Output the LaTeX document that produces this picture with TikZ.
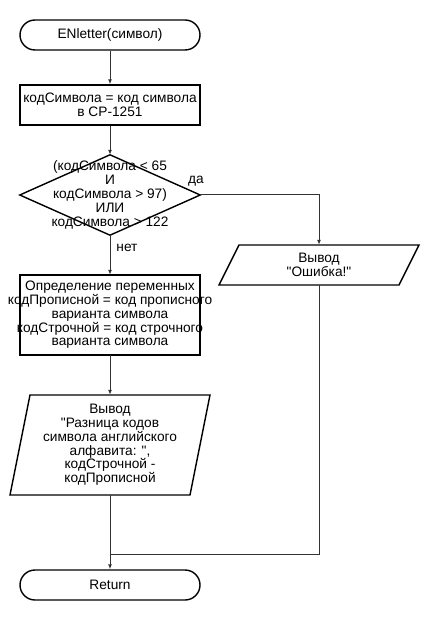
\documentclass[tikz,border=0pt]{standalone}
\usepackage{fontspec}
\newfontfamily\arialf{Liberation Sans}
\usetikzlibrary{arrows.meta,calc}
\begin{document}
\begin{tikzpicture}[x=1pt,y=-1pt,
  txt/.style={font=\arialf\fontsize{13.7}{13.8}\selectfont, align=center, inner sep=0pt},
  shp/.style={draw=black, line width=1.4pt},
  term/.style={txt, shp, minimum width=180pt, minimum height=30pt, rounded corners=15pt},
  procbox/.style={txt, shp, minimum width=180pt},
  conn/.style={draw=black!80, line width=1pt},
  arr/.style={conn, -{Latex[length=5pt,width=4pt]}},
  lbl/.style={font=\arialf\fontsize{13.7}{13.8}\selectfont, inner sep=0pt}]
\useasboundingbox (0,0) rectangle (430,620);
\node[term] (start) at (110,35) {ENletter(символ)};
\node[procbox, minimum height=40pt] (b1) at (110,105) {кодСимвола = код символа\\в CP-1251};
\node[txt, minimum width=180pt, minimum height=80pt] (d) at (110,195) {(кодСимвола < 65\\И\\кодСимвола > 97)\\ИЛИ\\кодСимвола > 122};
\draw[shp] (d.north) -- (d.east) -- (d.south) -- (d.west) -- cycle;
\node[txt, minimum width=160pt, minimum height=40pt] (p1) at (319,265) {Вывод\\"Ошибка!"};
\draw[shp] ($(p1.center)+(-80,-20)$) -- ($(p1.center)+(100,-20)$) -- ($(p1.center)+(80,20)$) -- ($(p1.center)+(-100,20)$) -- cycle;
\node[txt, minimum height=80pt] (b2) at (110,315) {Определение переменных\\кодПрописной = код прописного\\варианта символа\\кодСтрочной = код строчного\\варианта символа};
\draw[shp] ($(b2.center)+(-90,-40)$) rectangle ($(b2.center)+(90,40)$);
\node[txt, minimum width=160pt, minimum height=100pt] (p2) at (110,445) {Вывод\\"Разница кодов\\символа английского\\алфавита: ",\\кодСтрочной -\\кодПрописной};
\draw[shp] ($(p2.center)+(-80,-50)$) -- ($(p2.center)+(100,-50)$) -- ($(p2.center)+(80,50)$) -- ($(p2.center)+(-100,50)$) -- cycle;
\node[term] (ret) at (110,585) {Return};
\coordinate (j) at (110,554);
\node[lbl] (yes) at (196,181) {да};
\node[lbl] (no) at (127,248) {нет};
\draw[arr] (start.south) -- (b1.north);
\draw[arr] (b1.south) -- (d.north);
\draw[arr] (d.east) -| (p1.north);
\draw[arr] (d.south) -- (b2.north);
\draw[arr] (b2.south) -- (p2.north);
\draw[arr] (p2.south) -- (ret.north);
\draw[conn] (p1.south) |- (j);
\end{tikzpicture}
\end{document}
